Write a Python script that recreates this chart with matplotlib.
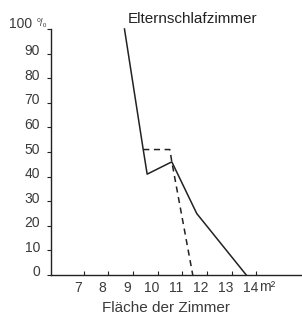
import matplotlib.pyplot as plt
import matplotlib.transforms as mtransforms

plt.rcParams['font.family'] = ['Liberation Sans', 'DejaVu Sans']

title = "Elternschlafzimmer"
xlabel = "Fläche der Zimmer"
xticks = [7, 8, 9, 10, 11, 12, 13, 14]
yticks = [0, 10, 20, 30, 40, 50, 60, 70, 80, 90, 100]

solid_x = [8.65, 9.41, 9.57, 10.57, 11.58, 13.59]
solid_y = [100, 51, 41, 46, 25, 0]
dash_x = [9.41, 10.49, 10.57, 11.42]
dash_y = [51, 51, 46, 0]

ink = "#222222"
txt = "#3a3a3a"

fig = plt.figure(figsize=(3.02, 3.19), dpi=100)
ax = fig.add_axes([51 / 302, 44 / 319, 251 / 302, 246 / 319])

ax.plot(solid_x, solid_y, color=ink, lw=1.1, clip_on=False)
ax.plot(dash_x, dash_y, color=ink, lw=1.1, ls=(0, (4, 3)), clip_on=False)

ax.set_xlim(5.67, 15.85)
ax.set_ylim(0, 100)
for s in ['top', 'right']:
    ax.spines[s].set_visible(False)
for s in ['left', 'bottom']:
    ax.spines[s].set_color(ink)
    ax.spines[s].set_linewidth(1.0)

ax.set_xticks(xticks)
ax.set_xticklabels([str(t) for t in xticks], fontsize=10, color=txt)
ax.set_yticks(yticks)
ax.set_yticklabels([str(t) for t in yticks], fontsize=10, color=txt)
ax.tick_params(axis='x', direction='in', length=3, color=ink, pad=4)
ax.tick_params(axis='y', direction='out', length=3, color=ink, pad=5)

# shift labels like in the print
offx = mtransforms.ScaledTranslation(-6 / 100, 0, fig.dpi_scale_trans)
for lab in ax.get_xticklabels():
    lab.set_transform(lab.get_transform() + offx)
for lab in ax.get_yticklabels():
    if lab.get_text() == "100":
        off = mtransforms.ScaledTranslation(-8 / 100, 7 / 100, fig.dpi_scale_trans)
    else:
        off = mtransforms.ScaledTranslation(0, 4 / 100, fig.dpi_scale_trans)
    lab.set_transform(lab.get_transform() + off)

ax.text(5.3, 102.3, "⁰/₀", fontsize=7, color=txt, ha='center', va='center', clip_on=False)
ax.text(14.1, -5, "m²", fontsize=10, color=txt, ha='left', va='center', clip_on=False)

ax.text(8.8, 104, title, fontsize=11, color=ink, ha='left', va='center')
fig.text(166 / 302, 1 - 308 / 319, xlabel, fontsize=11, color=txt, ha='center', va='center')

fig.savefig("out.png", dpi=100)
